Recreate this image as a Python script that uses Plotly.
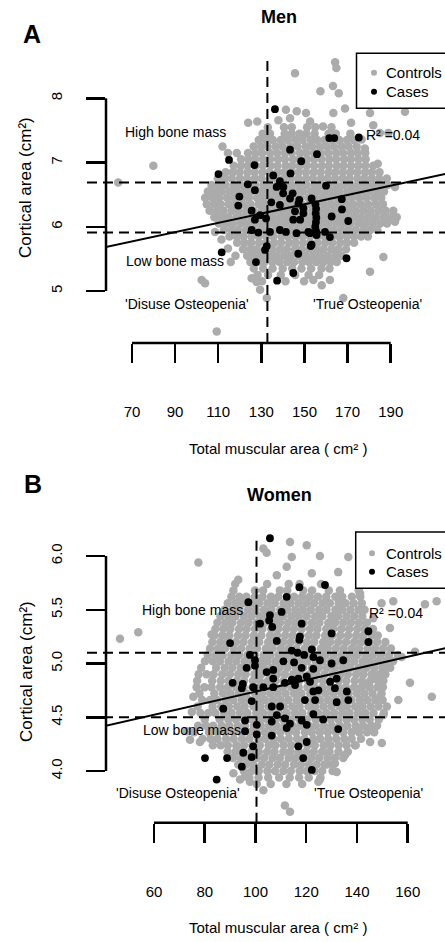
import plotly.graph_objects as go

# ---------------- DATA : Men (panel A) ----------------
men_x_ticks = [70, 90, 110, 130, 150, 170, 190]
men_y_ticks = [5, 6, 7, 8]
men_y_ticktext = ["5", "6", "7", "8"]

# controls: dense cloud read row by row (cortical area level -> muscular area values)
men_ctrl_row_y = [7.55, 7.45, 7.35, 7.25, 7.15, 7.05, 6.95, 6.85, 6.75, 6.65, 6.55, 6.45, 6.35,
                  6.25, 6.15, 6.05, 5.95, 5.85, 5.75, 5.65, 5.55, 5.45, 5.35, 5.25, 5.15]
men_ctrl_row_x = [
    [133.0, 140.5, 144.1, 151.2, 155.0, 162.5],
    [130.6, 134.0, 140.8, 144.1, 147.7, 150.9, 154.7, 161.2, 164.5, 171.3],
    [128.8, 132.2, 135.3, 139.0, 142.3, 145.9, 149.1, 152.9, 155.9, 159.4, 162.7, 166.1, 169.7, 172.9],
    [126.4, 129.8, 132.9, 136.6, 139.9, 143.5, 146.7, 150.5, 153.5, 157.0, 160.3, 163.7, 167.3, 170.5, 174.2],
    [114.5, 118.6, 123.8, 127.2, 130.3, 134.0, 137.3, 140.9, 144.1, 147.9, 150.9, 154.4, 157.7, 161.1, 164.7, 167.9, 171.6, 174.7, 178.2],
    [120.6, 124.0, 127.1, 130.8, 134.1, 137.7, 140.9, 144.7, 147.7, 151.2, 154.5, 157.9, 161.5, 164.7, 168.4, 171.5, 175.0, 178.4],
    [117.2, 120.6, 123.7, 127.4, 130.7, 134.3, 137.5, 141.3, 144.3, 147.8, 151.1, 154.5, 158.1, 161.3, 165.0, 168.1, 171.6, 175.0, 178.3, 181.9],
    [113.4, 116.8, 119.9, 123.6, 126.9, 130.5, 133.7, 137.5, 140.5, 144.0, 147.3, 150.7, 154.3, 157.5, 161.2, 164.3, 167.8, 171.2, 174.5, 178.1, 181.3, 184.8],
    [109.8, 113.2, 116.3, 120.0, 123.3, 126.9, 130.1, 133.9, 136.9, 140.4, 143.7, 147.1, 150.7, 153.9, 157.6, 160.7, 164.2, 167.6, 170.9, 174.5, 177.7, 181.2, 184.6, 188.2],
    [106.9, 110.3, 113.4, 117.1, 120.4, 124.0, 127.2, 131.0, 134.0, 137.5, 140.8, 144.2, 147.8, 151.0, 154.7, 157.8, 161.3, 164.7, 168.0, 171.6, 174.8, 178.3, 181.7, 185.3, 188.6],
    [105.2, 108.6, 111.7, 115.4, 118.7, 122.3, 125.5, 129.3, 132.3, 135.8, 139.1, 142.5, 146.1, 149.3, 153.0, 156.1, 159.6, 163.0, 166.3, 169.9, 173.1, 176.6, 180.0, 183.6, 186.9],
    [103.9, 107.3, 110.4, 114.1, 117.4, 121.0, 124.2, 128.0, 131.0, 134.5, 137.8, 141.2, 144.8, 148.0, 151.7, 154.8, 158.3, 161.7, 165.0, 168.6, 171.8, 175.3, 178.7, 182.3, 185.6],
    [104.7, 108.1, 111.2, 114.9, 118.2, 121.8, 125.0, 128.8, 131.8, 135.3, 138.6, 142.0, 145.6, 148.8, 152.5, 155.6, 159.1, 162.5, 165.8, 169.4, 172.6, 176.1, 179.5, 183.1, 186.4],
    [106.0, 109.4, 112.5, 116.2, 119.5, 123.1, 126.3, 130.1, 133.1, 136.6, 139.9, 143.3, 146.9, 150.1, 153.8, 156.9, 160.4, 163.8, 167.1, 170.7, 173.9, 177.4, 180.8, 184.4, 187.7, 191.2],
    [108.2, 111.6, 114.7, 118.4, 121.7, 125.3, 128.5, 132.3, 135.3, 138.8, 142.1, 145.5, 149.1, 152.3, 156.0, 159.1, 162.6, 166.0, 169.3, 172.9, 176.1, 179.6, 183.0, 186.6, 189.9, 192.8],
    [110.3, 113.7, 116.8, 120.5, 123.8, 127.4, 130.6, 134.4, 137.4, 140.9, 144.2, 147.6, 151.2, 154.4, 158.1, 161.2, 164.7, 168.1, 171.4, 175.0, 178.2, 181.7, 185.1, 188.3],
    [112.6, 116.0, 119.1, 122.8, 126.1, 129.7, 132.9, 136.7, 139.7, 143.2, 146.5, 149.9, 153.5, 156.7, 160.4, 163.5, 167.0, 170.4, 173.7, 177.3, 180.5, 183.8],
    [115.2, 118.6, 121.7, 125.4, 128.7, 132.3, 135.5, 139.3, 142.3, 145.8, 149.1, 152.5, 156.1, 159.3, 163.0, 166.1, 169.6, 173.0, 176.3, 179.4],
    [118.8, 122.2, 125.3, 129.0, 132.3, 135.9, 139.1, 142.9, 145.9, 149.4, 152.7, 156.1, 159.7, 162.9, 166.6, 169.7, 173.0],
    [121.5, 124.9, 128.0, 131.7, 135.0, 138.6, 141.8, 145.6, 148.6, 152.1, 155.4, 158.8, 162.4, 165.6, 169.3],
    [123.4, 126.8, 129.9, 133.6, 136.9, 140.5, 143.7, 147.5, 150.5, 154.0, 157.3, 160.7, 164.3, 167.2],
    [115.8, 124.9, 128.3, 131.4, 135.1, 138.4, 142.0, 145.2, 149.0, 152.0, 155.5, 158.8, 162.2, 165.0],
    [126.5, 130.8, 135.2, 139.9, 144.3, 148.6, 153.1, 157.9, 161.6],
    [128.2, 133.1, 139.0, 145.7, 151.9, 156.8],
    [130.3, 141.2, 149.8],
]
# controls: scattered points around the cloud
men_ctrl_extra_x = [164.2, 164.8, 145.6, 157.4, 163.2, 165.9, 163.4, 168.8, 180.4, 196.6, 152.6, 158.6,
                    185.0, 141.4, 146.4, 143.3, 150.7, 123.9, 128.1, 79.9, 63.6, 192.0, 181.9, 188.9,
                    102.3, 103.9, 109.3, 125.5, 127.8, 132.5, 129.4, 186.6, 180.4, 192.0, 168.0, 158.0,
                    154.1, 161.8, 112.0, 176.5, 178.0, 184.0, 108.5, 111.5, 114.5, 118.0, 137.9, 171.6]
men_ctrl_extra_y = [8.56, 8.47, 8.39, 8.11, 8.19, 8.08, 7.77, 7.84, 7.77, 7.79, 7.64, 7.56,
                    7.46, 7.82, 7.80, 7.69, 7.77, 7.62, 7.64, 6.95, 6.69, 6.62, 7.58, 7.46,
                    5.17, 5.12, 4.37, 5.20, 5.14, 4.89, 5.02, 5.53, 5.30, 6.08, 4.89, 5.09,
                    5.17, 5.17, 7.25, 7.36, 7.22, 6.98, 5.92, 5.80, 5.66, 5.55, 7.66, 7.62]

men_case_x = [136.3, 161.5, 163.8, 175.2, 143.3, 155.8, 148.5, 115.0, 110.1, 126.8, 135.5, 143.5,
              138.6, 137.1, 123.7, 127.0, 140.1, 144.5, 119.8, 119.3, 134.6, 147.6, 160.0, 167.3,
              167.4, 170.3, 147.2, 149.5, 145.6, 149.5, 148.0, 144.8, 155.1, 155.4, 155.2, 155.5,
              155.3, 155.0, 155.4, 155.6, 162.6, 159.5, 161.8, 152.6, 153.3, 169.5, 125.5, 129.4,
              127.0, 132.2, 138.6, 143.3, 153.3, 125.5, 128.6, 134.0, 138.6, 141.4, 146.3, 151.8,
              132.5, 131.7, 111.6, 127.5, 152.9, 147.1, 144.8, 137.3, 140.2]
men_case_y = [7.83, 7.38, 7.38, 7.39, 7.20, 7.13, 7.02, 7.04, 6.82, 6.96, 6.80, 6.83,
              6.71, 6.62, 6.66, 6.57, 6.52, 6.52, 6.47, 6.33, 6.38, 6.42, 6.64, 6.43,
              6.27, 6.09, 6.36, 6.29, 6.24, 6.21, 6.11, 6.11, 6.35, 6.28, 6.21, 6.14,
              6.07, 6.00, 5.93, 5.87, 6.16, 5.92, 5.84, 5.90, 5.72, 5.51, 6.25, 6.18,
              6.11, 6.13, 6.34, 6.44, 6.44, 5.95, 5.91, 5.92, 5.95, 5.92, 5.90, 5.92,
              5.70, 5.64, 5.60, 5.45, 5.70, 5.58, 5.28, 5.16, 6.62]

men_cut_muscle = 132.8            # vertical dashed line
men_cut_cortical = [6.69, 5.91]   # horizontal dashed lines
men_fit_intercept = 5.267
men_fit_slope = 0.00722
men_fit_span = [50.0, 220.0]

# ---------------- DATA : Women (panel B) ----------------
women_x_ticks = [60, 80, 100, 120, 140, 160]
women_y_ticks = [4.0, 4.5, 5.0, 5.5, 6.0]
women_y_ticktext = ["4.0", "4.5", "5.0", "5.5", "6.0"]

women_ctrl_row_y = [5.74, 5.68, 5.62, 5.56, 5.50, 5.44, 5.38, 5.32, 5.26, 5.20, 5.14, 5.08, 5.02,
                    4.96, 4.90, 4.84, 4.78, 4.72, 4.66, 4.60, 4.54, 4.48, 4.42, 4.36, 4.30, 4.24,
                    4.18, 4.12, 4.06, 4.00, 3.94, 3.88]
women_ctrl_row_x = [
    [92.0, 104.6, 113.1, 117.4, 125.8],
    [91.3, 99.8, 103.0, 109.6, 112.5, 118.8, 122.3, 128.9, 133.3, 140.7],
    [90.5, 93.6, 96.4, 99.8, 102.8, 106.1, 109.0, 112.5, 115.2, 118.4, 121.4, 124.6, 127.9, 131.5, 134.2, 138.0, 141.3],
    [89.1, 92.2, 95.0, 98.4, 101.4, 104.7, 107.6, 111.1, 113.8, 117.0, 120.0, 123.1, 126.4, 129.3, 132.8, 135.5, 138.7, 141.9],
    [87.8, 90.9, 93.7, 97.1, 100.1, 103.4, 106.3, 109.8, 112.5, 115.7, 118.7, 121.8, 125.1, 128.0, 131.5, 134.2, 137.4, 140.6, 143.0],
    [86.2, 89.3, 92.1, 95.5, 98.5, 101.8, 104.7, 108.2, 110.9, 114.1, 117.1, 120.2, 123.5, 126.4, 129.9, 132.6, 135.8, 138.9, 142.1],
    [85.0, 88.1, 90.9, 94.3, 97.3, 100.6, 103.5, 107.0, 109.7, 112.9, 115.9, 119.0, 122.3, 125.2, 128.7, 131.4, 134.6, 137.6, 140.8, 143.9],
    [84.2, 87.3, 90.1, 93.5, 96.5, 99.8, 102.7, 106.2, 108.9, 112.1, 115.1, 118.2, 121.5, 124.4, 127.9, 130.6, 133.8, 136.9, 140.1, 143.0, 146.3],
    [83.8, 86.9, 89.7, 93.1, 96.1, 99.4, 102.3, 105.8, 108.5, 111.7, 114.7, 117.8, 121.1, 124.0, 127.5, 130.2, 133.4, 136.5, 139.7, 142.6, 145.9, 148.2],
    [83.0, 86.1, 88.9, 92.3, 95.3, 98.6, 101.5, 105.0, 107.7, 110.9, 113.9, 117.0, 120.3, 123.2, 126.7, 129.4, 132.6, 135.7, 138.9, 141.8, 145.1, 148.0, 151.2],
    [82.1, 85.2, 88.0, 91.4, 94.4, 97.7, 100.6, 104.1, 106.8, 110.0, 113.0, 116.1, 119.4, 122.3, 125.8, 128.5, 131.7, 134.8, 138.0, 140.9, 144.2, 147.1, 150.3, 153.4],
    [81.2, 84.3, 87.1, 90.5, 93.5, 96.8, 99.7, 103.2, 105.9, 109.1, 112.1, 115.2, 118.5, 121.4, 124.9, 127.6, 130.8, 133.9, 137.1, 140.0, 143.3, 146.2, 149.4, 152.6, 156.1],
    [80.1, 83.2, 86.0, 89.4, 92.4, 95.7, 98.6, 102.1, 104.8, 108.0, 111.0, 114.1, 117.4, 120.3, 123.8, 126.5, 129.7, 132.8, 136.0, 138.9, 142.2, 145.1, 148.3, 151.4, 154.2],
    [78.6, 84.5, 87.9, 90.9, 94.2, 97.1, 100.6, 103.3, 106.5, 109.5, 112.6, 115.9, 118.8, 122.3, 125.0, 128.2, 131.3, 134.5, 137.4, 140.7, 143.6, 146.8, 150.0, 153.1],
    [77.6, 80.7, 83.5, 86.9, 89.9, 93.2, 96.1, 99.6, 102.3, 105.5, 108.5, 111.6, 114.9, 117.8, 121.3, 124.0, 127.2, 130.3, 133.5, 136.4, 139.7, 142.6, 145.8, 148.9, 151.2],
    [77.0, 82.9, 86.3, 89.3, 92.6, 95.5, 99.0, 101.7, 104.9, 107.9, 111.0, 114.3, 117.2, 120.7, 123.4, 126.6, 129.7, 132.9, 135.8, 139.1, 142.0, 145.2, 148.3, 150.4],
    [76.8, 79.9, 82.7, 86.1, 89.1, 92.4, 95.3, 98.8, 101.5, 104.7, 107.7, 110.8, 114.1, 117.0, 120.5, 123.2, 126.4, 129.5, 132.7, 135.6, 138.9, 141.8, 145.0, 148.1, 150.2],
    [77.9, 83.8, 87.2, 90.2, 93.5, 96.4, 99.9, 102.6, 105.8, 108.8, 111.9, 115.2, 118.1, 121.6, 124.3, 127.5, 130.6, 133.8, 136.7, 140.0, 142.9, 146.1, 149.7],
    [79.0, 82.1, 84.9, 88.3, 91.3, 94.6, 97.5, 101.0, 103.7, 106.9, 109.9, 113.0, 116.3, 119.2, 122.7, 125.4, 128.6, 131.7, 134.9, 137.8, 141.1, 144.0, 147.2, 150.1],
    [77.2, 83.1, 86.5, 89.5, 92.8, 95.7, 99.2, 101.9, 105.1, 108.1, 111.2, 114.5, 117.4, 120.9, 123.6, 126.8, 129.9, 133.1, 136.0, 139.3, 142.2, 145.4, 148.5, 151.8],
    [78.3, 81.4, 84.2, 87.6, 90.6, 93.9, 96.8, 100.3, 103.0, 106.2, 109.2, 112.3, 115.6, 118.5, 122.0, 124.7, 127.9, 131.0, 134.2, 137.1, 140.4, 143.3, 146.5, 150.6],
    [80.0, 85.9, 89.3, 92.3, 95.6, 98.5, 102.0, 104.7, 107.9, 110.9, 114.0, 117.3, 120.2, 123.7, 126.4, 129.6, 132.7, 135.9, 138.8, 142.1, 145.0, 148.6],
    [77.4, 80.5, 83.3, 86.7, 89.7, 93.0, 95.9, 99.4, 102.1, 105.3, 108.3, 111.4, 114.7, 117.6, 121.1, 123.8, 127.0, 130.1, 133.3, 136.2, 139.5, 142.4, 145.6, 147.9],
    [75.8, 81.7, 85.1, 88.1, 91.4, 94.3, 97.8, 100.5, 103.7, 106.7, 109.8, 113.1, 116.0, 119.5, 122.2, 125.4, 128.5, 131.7, 134.6, 137.9, 140.8, 144.0, 146.8],
    [79.1, 82.2, 85.0, 88.4, 91.4, 94.7, 97.6, 101.1, 103.8, 107.0, 110.0, 113.1, 116.4, 119.3, 122.8, 125.5, 128.7, 131.8, 135.0, 137.9, 141.6],
    [83.2, 86.3, 89.1, 92.5, 95.5, 98.8, 101.7, 105.2, 107.9, 111.1, 114.1, 117.2, 120.5, 123.4, 126.9, 129.6, 132.8, 135.9, 139.5],
    [89.0, 92.1, 94.9, 98.3, 101.3, 104.6, 107.5, 111.0, 113.7, 116.9, 119.9, 123.0, 126.3, 129.2, 132.7, 136.4],
    [91.1, 94.2, 97.0, 100.4, 103.4, 106.7, 109.6, 113.1, 115.8, 119.0, 122.0, 125.1, 128.4, 131.3, 134.6],
    [93.2, 96.3, 99.1, 102.5, 105.5, 108.8, 111.7, 115.2, 117.9, 121.1, 124.1, 127.2, 130.5],
    [95.4, 98.5, 101.3, 104.7, 107.7, 111.0, 113.9, 117.4, 120.1, 123.3, 126.3, 130.4],
    [97.6, 101.2, 105.0, 109.3, 113.5, 117.2, 121.0, 125.6],
    [100.5, 106.0, 112.2, 118.4],
]
women_ctrl_extra_x = [77.5, 53.8, 46.6, 103.1, 104.4, 113.6, 120.2, 114.3, 112.3, 125.4, 136.6, 132.6,
                      122.2, 141.2, 154.3, 171.4, 108.4, 93.2, 82.7, 166.8, 149.7, 146.4, 153.0, 162.9,
                      157.6, 160.9, 169.5, 156.3, 150.4, 145.2, 149.8, 145.2, 139.2, 135.3, 132.0, 124.8,
                      131.3, 128.1, 151.0, 147.1, 143.8, 149.1, 111.6, 113.6, 72.9, 74.9, 78.1, 91.3,
                      93.9, 103.1, 125.4, 75.5, 74.2, 92.6, 95.9, 97.8]
women_ctrl_extra_y = [5.94, 5.29, 5.23, 6.07, 6.03, 6.13, 6.10, 5.99, 5.90, 6.00, 5.99, 5.85,
                      5.84, 5.65, 5.58, 5.58, 5.82, 5.78, 5.27, 5.55, 5.56, 5.42, 5.33, 5.11,
                      5.06, 4.82, 4.69, 4.66, 4.52, 4.40, 4.26, 4.27, 4.24, 4.15, 3.99, 3.90,
                      4.07, 4.06, 4.97, 4.89, 4.80, 4.69, 3.68, 3.62, 4.37, 4.55, 4.27, 3.98,
                      3.92, 3.82, 3.92, 4.69, 4.29, 4.23, 3.95, 3.90]

women_case_x = [105.7, 97.2, 112.3, 117.3, 127.4, 101.8, 105.4, 106.6, 105.7, 110.3, 108.4, 90.0,
                117.3, 118.2, 130.0, 144.5, 144.5, 97.8, 99.8, 99.8, 96.5, 114.3, 116.6, 119.2,
                122.2, 122.8, 111.0, 115.2, 125.4, 130.0, 134.6, 118.2, 122.8, 107.0, 104.4, 107.0,
                91.0, 95.0, 99.1, 103.1, 107.0, 111.6, 114.3, 116.9, 120.2, 115.6, 121.5, 124.8,
                129.4, 132.0, 131.3, 136.0, 122.8, 136.6, 123.5, 132.0, 119.5, 87.3, 98.5, 106.4,
                109.7, 108.4, 111.6, 113.6, 118.2, 122.8, 126.7, 132.6, 112.3, 95.9, 100.5, 100.5,
                106.4, 95.9, 99.1, 95.2, 98.5, 94.6, 80.1, 88.8, 84.7, 116.9, 118.8, 122.2,
                120.2, 120.2, 106.4, 94.6, 117.5]
women_case_y = [6.165, 5.57, 5.62, 5.71, 5.73, 5.37, 5.40, 5.34, 5.45, 5.48, 5.21, 5.19,
                5.22, 5.37, 5.28, 5.30, 5.20, 5.08, 5.03, 4.98, 4.96, 5.12, 5.10, 5.08,
                5.13, 5.06, 5.02, 5.01, 5.03, 5.00, 5.03, 4.96, 4.95, 4.94, 4.92, 4.86,
                4.82, 4.81, 4.78, 4.78, 4.78, 4.82, 4.85, 4.86, 4.88, 4.80, 4.83, 4.75,
                4.83, 4.86, 4.77, 4.74, 4.74, 4.66, 4.66, 4.64, 4.66, 4.58, 4.65, 4.60,
                4.60, 4.52, 4.49, 4.44, 4.47, 4.53, 4.48, 4.39, 4.40, 4.47, 4.43, 4.34,
                4.33, 4.37, 4.23, 4.17, 4.13, 4.04, 4.12, 4.12, 3.92, 4.23, 4.12, 4.01,
                4.43, 4.27, 4.46, 4.77, 5.25]

women_cut_muscle = 100.4
women_cut_cortical = [5.10, 4.50]
women_fit_intercept = 4.20
women_fit_slope = 0.00539
women_fit_span = [35.0, 180.0]

# ---------------- helpers ----------------
def flatten(rows_y, rows_x, extra_x, extra_y):
    xs, ys = [], []
    for yv, row in zip(rows_y, rows_x):
        for xv in row:
            xs.append(xv)
            ys.append(yv)
    return xs + extra_x, ys + extra_y

W, H, LM = 445, 942, 106          # plot region starts where the y axis line is
PW = W - LM
def pxx(px):
    return (px - LM) / PW
def pxy(py):
    return 1 - py / H

FONT = "Liberation Sans, Arial, Helvetica, sans-serif"
GRAY = "#ababab"

fig = go.Figure()

panels = [
    dict(ax="", ctrl=flatten(men_ctrl_row_y, men_ctrl_row_x, men_ctrl_extra_x, men_ctrl_extra_y),
         case=(men_case_x, men_case_y), fit=(men_fit_intercept, men_fit_slope, men_fit_span)),
    dict(ax="2", ctrl=flatten(women_ctrl_row_y, women_ctrl_row_x, women_ctrl_extra_x, women_ctrl_extra_y),
         case=(women_case_x, women_case_y), fit=(women_fit_intercept, women_fit_slope, women_fit_span)),
]
for p in panels:
    xa, ya = "x" + p["ax"], "y" + p["ax"]
    cx, cy = p["ctrl"]
    fig.add_trace(go.Scatter(x=cx, y=cy, mode="markers", name="Controls", xaxis=xa, yaxis=ya,
                             marker=dict(color=GRAY, size=8.5, line=dict(width=0)),
                             cliponaxis=False, showlegend=False, hoverinfo="skip"))
    kx, ky = p["case"]
    fig.add_trace(go.Scatter(x=kx, y=ky, mode="markers", name="Cases", xaxis=xa, yaxis=ya,
                             marker=dict(color="black", size=7.8, line=dict(width=0)),
                             cliponaxis=False, showlegend=False, hoverinfo="skip"))
    b0, b1, span = p["fit"]
    fig.add_trace(go.Scatter(x=span, y=[b0 + b1 * v for v in span], mode="lines", xaxis=xa, yaxis=ya,
                             line=dict(color="black", width=2), showlegend=False, hoverinfo="skip"))

axis_common = dict(showgrid=False, zeroline=False, showline=False, tickcolor="black",
                   ticks="outside", ticklen=19, tickwidth=2.5,
                   tickfont=dict(family=FONT, size=15, color="black"))

fig.update_layout(
    width=W, height=H, autosize=False,
    margin=dict(l=LM, r=0, t=0, b=0, autoexpand=False),
    paper_bgcolor="white", plot_bgcolor="white",
    font=dict(family=FONT, color="black"),
    xaxis=dict(domain=[0, 1], range=[57.94, 215.176], anchor="y", tickvals=men_x_ticks,
               ticklabelstandoff=36, **axis_common),
    yaxis=dict(domain=[pxy(343), pxy(58)], range=[4.1904, 8.6274], anchor="x", tickvals=men_y_ticks,
               ticktext=men_y_ticktext, tickangle=-90, ticklabelstandoff=18, **axis_common),
    xaxis2=dict(domain=[0, 1], range=[41.08, 174.70], anchor="y2", tickvals=women_x_ticks,
                ticklabelstandoff=36, **axis_common),
    yaxis2=dict(domain=[pxy(822.7), pxy(538)], range=[3.5191, 6.1674], anchor="x2", tickvals=women_y_ticks,
                ticktext=women_y_ticktext, tickangle=-90, ticklabelstandoff=18, **axis_common),
)

DASH = "10px,6px"
shapes = []
for sfx, cut_x, cuts_y, xt, yt in [("", men_cut_muscle, men_cut_cortical, men_x_ticks, men_y_ticks),
                                    ("2", women_cut_muscle, women_cut_cortical, women_x_ticks, women_y_ticks)]:
    xr, yr = "x" + sfx, "y" + sfx
    # horizontal cut-offs reach out to the tick ends (x = 87 px)
    for cy in cuts_y:
        shapes.append(dict(type="line", xref="paper", yref=yr, x0=pxx(87), x1=1, y0=cy, y1=cy,
                           line=dict(color="black", width=2, dash=DASH)))
    shapes.append(dict(type="line", xref=xr, yref=yr + " domain", x0=cut_x, x1=cut_x, y0=0, y1=1,
                       line=dict(color="black", width=2, dash=DASH)))
    # y axis line (first to last tick)
    shapes.append(dict(type="line", xref=xr + " domain", yref=yr, x0=0, x1=0,
                       y0=yt[0], y1=yt[-1], line=dict(color="black", width=2.5)))
    # x axis line (first to last tick)
    shapes.append(dict(type="line", xref=xr, yref=yr + " domain", x0=xt[0], x1=xt[-1], y0=0, y1=0,
                       line=dict(color="black", width=2.5)))

# legend boxes and symbols
for top, bot, left, sym_x, row1, row2 in [(53.3, 108.3, 356.5, 374, 72.7, 91.7),
                                          (532, 588.3, 355.7, 372, 553.3, 571.7)]:
    shapes.append(dict(type="rect", xref="paper", yref="paper", x0=pxx(left), x1=pxx(470),
                       y0=pxy(bot), y1=pxy(top), line=dict(color="black", width=1.5), fillcolor="white"))
    for row, col in [(row1, GRAY), (row2, "black")]:
        shapes.append(dict(type="circle", xref="paper", yref="paper", x0=pxx(sym_x - 3), x1=pxx(sym_x + 3),
                           y0=pxy(row + 3), y1=pxy(row - 3), line=dict(width=0), fillcolor=col))
fig.update_layout(shapes=shapes)

ann = []
def text(t, px, py, size=14, xanchor="left", bold=False, angle=0):
    ann.append(dict(text=("<b>%s</b>" % t) if bold else t, x=pxx(px), y=pxy(py), xref="paper", yref="paper",
                    xanchor=xanchor, yanchor="middle", showarrow=False, textangle=angle,
                    font=dict(family=FONT, size=size, color="black")))

# panel A
text("A", 32, 33.5, 25, "center", True)
text("Men", 279, 16.7, 18, "center", True)
text("Cortical area (cm²)", 26, 188, 17, "center", angle=-90)
text("Total muscular area ( cm² )", 278, 448, 15, "center")
text("High bone mass", 123, 131.7)
text("Low bone mass", 124, 260.7)
text("'Disuse Osteopenia'", 123, 304)
text("'True Osteopenia'", 310.7, 304)
text("R² =0.04", 364, 135)
text("Controls", 384, 72.7, 15)
text("Cases", 384, 91.7, 15)
# panel B
text("B", 33, 483.5, 25, "center", True)
text("Women", 279, 495, 18, "center", True)
text("Cortical area (cm²)", 26, 672, 17, "center", angle=-90)
text("Total muscular area ( cm² )", 278, 927.7, 15, "center")
text("High bone mass", 139.7, 610)
text("Low bone mass", 140.7, 730)
text("'Disuse Osteopenia'", 114, 793.3)
text("'True Osteopenia'", 312, 793.3)
text("R² =0.04", 367, 613)
text("Controls", 384, 553.3, 15)
text("Cases", 384, 571.7, 15)
fig.update_layout(annotations=ann)

fig.write_html("out.html", config={"displayModeBar": False, "staticPlot": True},
               post_script="document.body.style.margin='0';document.body.style.overflow='hidden';")
